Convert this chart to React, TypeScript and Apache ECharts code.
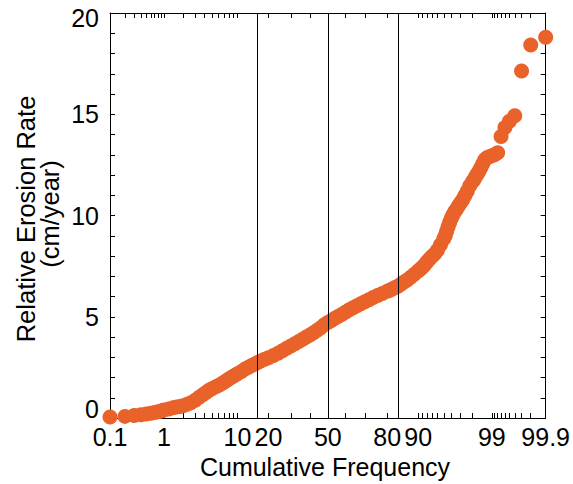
import React, { useEffect, useRef } from "react";
import * as echarts from "echarts";

// Cumulative frequency (%) of each plotted point
const PCT = [
  0.1, 0.2, 0.3, 0.4, 0.5, 0.6, 0.7, 0.8, 0.9, 1.0, 1.2, 1.4, 1.6, 1.8, 2.0, 2.3, 2.6, 3.0,
  3.4, 3.8, 4.2, 4.6, 5.0, 5.6, 6.2, 6.8, 7.4, 8.0, 8.7, 9.3, 10, 11, 12, 13, 14, 15, 16, 17,
  18.5, 20, 22, 24, 26, 28, 30, 32, 34, 36, 38, 40, 42, 44, 46, 48, 50, 52, 54, 56, 58, 60,
  62, 64, 66, 68, 70, 72, 74, 76, 78, 80, 81, 82, 83, 84, 85, 86, 87, 88, 89, 90, 90.5, 91,
  91.5, 92, 92.5, 93, 93.5, 94, 94.5, 95, 95.2, 95.4, 95.6, 95.8, 96.0, 96.2, 96.4, 96.6,
  96.8, 97.0, 97.2, 97.4, 97.6, 97.8, 98.0, 98.1, 98.2, 98.3, 98.4, 98.5, 98.6, 98.7, 98.8,
  98.9, 99.0, 99.1, 99.2, 99.3, 99.4, 99.5, 99.6, 99.7, 99.8, 99.9,
];

// Relative erosion rate (cm/year) of each point
const RATE = [
  0.05, 0.08, 0.12, 0.16, 0.2, 0.23, 0.27, 0.31, 0.35, 0.39, 0.45, 0.5, 0.54, 0.57, 0.6, 0.68,
  0.75, 0.88, 1.03, 1.15, 1.26, 1.37, 1.44, 1.54, 1.63, 1.73, 1.83, 1.92, 2.02, 2.1, 2.18, 2.3,
  2.42, 2.51, 2.59, 2.67, 2.74, 2.81, 2.9, 2.98, 3.09, 3.2, 3.32, 3.44, 3.56, 3.67, 3.78, 3.89,
  4.0, 4.1, 4.21, 4.33, 4.46, 4.6, 4.72, 4.82, 4.92, 5.02, 5.12, 5.23, 5.34, 5.44, 5.54, 5.64,
  5.74, 5.84, 5.95, 6.05, 6.15, 6.26, 6.31, 6.37, 6.44, 6.51, 6.61, 6.72, 6.82, 6.95, 7.1,
  7.26, 7.34, 7.44, 7.56, 7.7, 7.84, 7.97, 8.1, 8.28, 8.55, 8.85, 9.0, 9.22, 9.44, 9.66, 9.85,
  10.03, 10.18, 10.31, 10.47, 10.62, 10.76, 10.98, 11.2, 11.47, 11.68, 11.78, 11.92, 12.05,
  12.18, 12.36, 12.56, 12.75, 12.85, 12.9, 12.95, 13.0, 13.1, 13.9, 14.35, 14.65, 14.92,
  17.14, 18.42, 18.8,
];

// Labelled probability ticks (%)
const MAJOR_TICKS = [0.1, 1, 10, 20, 50, 80, 90, 99, 99.9];
// Unlabelled probability ticks (%)
const MINOR_TICKS = [
  0.2, 0.3, 0.4, 0.5, 0.6, 0.7, 0.8, 0.9, 2, 3, 4, 5, 6, 7, 8, 9, 30, 40, 60, 70, 91, 92, 93,
  94, 95, 96, 97, 98, 99.1, 99.2, 99.3, 99.4, 99.5, 99.6, 99.7, 99.8,
];
// Reference lines: mean - 1 sd, median, mean + 1 sd (%)
const REF_LINES = [15.866, 50, 84.134];

const Y_MIN = 0;
const Y_MAX = 20;
const Y_STEP = 5;

const FONT = "'Liberation Sans', Arial, Helvetica, sans-serif";
const DOT = "#E8622A";
const TICK_FONT = 25;

// inverse standard normal CDF (normal probability axis transform)
function probit(p: number): number {
  const a = [-3.969683028665376e1, 2.209460984245205e2, -2.759285104469687e2, 1.38357751867269e2, -3.066479806614716e1, 2.506628277459239];
  const b = [-5.447609879822406e1, 1.615858368580409e2, -1.556989798598866e2, 6.680131188771972e1, -1.328068155288572e1];
  const c = [-7.784894002430293e-3, -3.223964580411365e-1, -2.400758277161838, -2.549671348234877, 4.374664141464968, 2.938163982698783];
  const d = [7.784695709041462e-3, 3.224671290700398e-1, 2.445134137142996, 3.754408661907416];
  const plow = 0.02425;
  if (p < plow) {
    const q = Math.sqrt(-2 * Math.log(p));
    return (((((c[0] * q + c[1]) * q + c[2]) * q + c[3]) * q + c[4]) * q + c[5]) / ((((d[0] * q + d[1]) * q + d[2]) * q + d[3]) * q + 1);
  }
  if (p <= 1 - plow) {
    const q = p - 0.5;
    const r = q * q;
    return ((((((a[0] * r + a[1]) * r + a[2]) * r + a[3]) * r + a[4]) * r + a[5]) * q) / (((((b[0] * r + b[1]) * r + b[2]) * r + b[3]) * r + b[4]) * r + 1);
  }
  const q = Math.sqrt(-2 * Math.log(1 - p));
  return -(((((c[0] * q + c[1]) * q + c[2]) * q + c[3]) * q + c[4]) * q + c[5]) / ((((d[0] * q + d[1]) * q + d[2]) * q + d[3]) * q + 1);
}

const z = (pct: number) => probit(pct / 100);

export default function App() {
  const ref = useRef<HTMLDivElement>(null);

  useEffect(() => {
    if (!ref.current) return;
    const chart = echarts.init(ref.current, null, { renderer: "svg" });

    const xMin = z(MAJOR_TICKS[0]);
    const xMax = z(MAJOR_TICKS[MAJOR_TICKS.length - 1]);
    const majorZ = MAJOR_TICKS.map(z);
    const allZ = [...MAJOR_TICKS, ...MINOR_TICKS].map(z);

    const labelFor = (v: number) => {
      let best = 0;
      let bd = Infinity;
      majorZ.forEach((m, i) => {
        const dd = Math.abs(m - v);
        if (dd < bd) {
          bd = dd;
          best = i;
        }
      });
      return String(MAJOR_TICKS[best]);
    };

    const axisLine = { show: true, onZero: false, lineStyle: { color: "#000", width: 1 } };

    const xBase = (position: "top" | "bottom", labels: boolean) => ({
      type: "value",
      position,
      min: xMin,
      max: xMax,
      axisLine,
      axisTick: {
        show: true,
        inside: true,
        length: 5,
        customValues: allZ,
        lineStyle: { color: "#000", width: 1 },
      },
      axisLabel: labels
        ? {
            show: true,
            customValues: majorZ,
            formatter: (v: number) => labelFor(v),
            fontSize: TICK_FONT,
            fontFamily: FONT,
            color: "#000",
            margin: 6,
          }
        : { show: false },
      splitLine: { show: false },
    });

    const yBase = (position: "left" | "right", labels: boolean) => ({
      type: "value",
      position,
      min: Y_MIN,
      max: Y_MAX,
      interval: Y_STEP,
      axisLine,
      axisTick: { show: true, inside: true, length: 5, lineStyle: { color: "#000", width: 1 } },
      minorTick: { show: true, splitNumber: 5, length: 5, lineStyle: { color: "#000", width: 1 } },
      axisLabel: labels
        ? {
            show: true,
            fontSize: TICK_FONT,
            fontFamily: FONT,
            color: "#000",
            margin: 11,
            formatter: (v: number) =>
              v === Y_MIN ? `{lo|${v}}` : v === Y_MAX ? `{hi|${v}}` : `{n|${v}}`,
            rich: {
              lo: { fontSize: TICK_FONT, fontFamily: FONT, color: "#000", padding: [0, 0, 18, 0] },
              hi: { fontSize: TICK_FONT, fontFamily: FONT, color: "#000", padding: [10, 0, 0, 0] },
              n: { fontSize: TICK_FONT, fontFamily: FONT, color: "#000" },
            },
          }
        : { show: false },
      splitLine: { show: false },
      minorSplitLine: { show: false },
    });

    chart.setOption({
      animation: false,
      backgroundColor: "#fff",
      grid: { left: 110, right: 26, top: 13, bottom: 66, containLabel: false },
      xAxis: [xBase("bottom", true), xBase("top", false)],
      yAxis: [yBase("left", true), yBase("right", false)],
      graphic: [
        {
          type: "text",
          x: 26,
          y: 219,
          rotation: Math.PI / 2,
          style: {
            text: "Relative Erosion Rate",
            fontSize: 25.5,
            fontFamily: FONT,
            fill: "#000",
            align: "center",
            verticalAlign: "middle",
          },
        },
        {
          type: "text",
          x: 50,
          y: 214,
          rotation: Math.PI / 2,
          style: {
            text: "(cm/year)",
            fontSize: 25.5,
            fontFamily: FONT,
            fill: "#000",
            align: "center",
            verticalAlign: "middle",
          },
        },
        {
          type: "text",
          x: 325,
          y: 467,
          style: {
            text: "Cumulative Frequency",
            fontSize: 25,
            fontFamily: FONT,
            fill: "#000",
            align: "center",
            verticalAlign: "middle",
          },
        },
      ],
      series: [
        {
          type: "line",
          data: [],
          z: 1,
          silent: true,
          markLine: {
            silent: true,
            symbol: ["none", "none"],
            label: { show: false },
            lineStyle: { color: "#000", width: 1, type: "solid" },
            data: REF_LINES.map((p) => ({ xAxis: z(p) })),
          },
        },
        {
          type: "scatter",
          z: 3,
          clip: false,
          symbol: "circle",
          symbolSize: 15,
          itemStyle: { color: DOT, opacity: 1 },
          emphasis: { disabled: true },
          data: PCT.map((p, i) => [z(p), RATE[i]]),
        },
      ],
    });

    return () => chart.dispose();
  }, []);

  return (
    <div
      ref={ref}
      style={{ position: "absolute", left: 0, top: 0, width: 573, height: 484 }}
    />
  );
}
